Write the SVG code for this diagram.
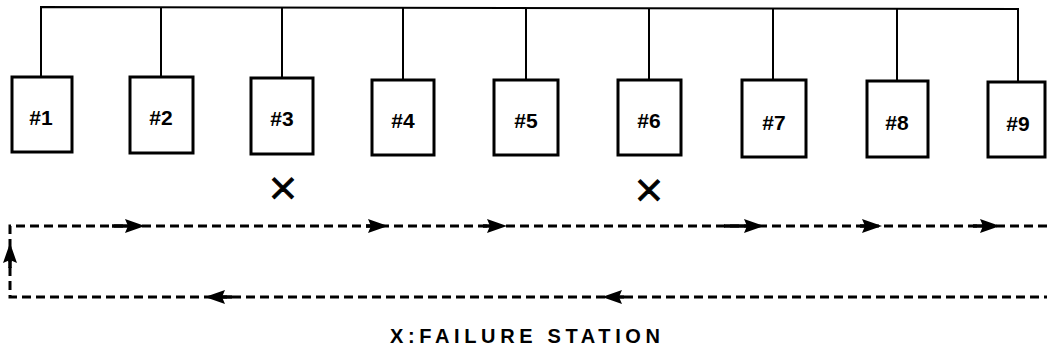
<svg xmlns="http://www.w3.org/2000/svg" xmlns:xlink="http://www.w3.org/1999/xlink" width="1047" height="352" viewBox="0 0 1047 352">
<style>
.box{fill:#fff;stroke:#000;stroke-width:3}
.wire{fill:none;stroke:#000;stroke-width:2}
.dash{fill:none;stroke:#000;stroke-width:3;stroke-dasharray:9 5}
.lead{fill:none;stroke:#000;stroke-width:3.5}
.lbl{font-family:"Liberation Sans",Arial,sans-serif;font-weight:bold;font-size:21px;text-anchor:middle;fill:#000}
.x{font-family:"DejaVu Sans",sans-serif;font-size:38px;text-anchor:middle;fill:#000;stroke:#000;stroke-width:0.8}
.cap{font-family:"Liberation Sans",Arial,sans-serif;font-weight:bold;font-size:20px;fill:#000}
.ah{fill:#000}
</style>
<defs>
<path id="ah" d="M0,0 L-20,-7 L-17,0 L-20,7 Z"/>
</defs>
<rect width="1047" height="352" fill="#fff"/>
<g id="connectors">
<polyline class="wire" points="41,77 41,7 1018,9 1018,82"/>
<line class="wire" x1="161" y1="7" x2="161" y2="77"/>
<line class="wire" x1="282" y1="7" x2="282" y2="78"/>
<line class="wire" x1="403" y1="8" x2="403" y2="80"/>
<line class="wire" x1="526" y1="8" x2="526" y2="80"/>
<line class="wire" x1="649" y1="8" x2="649" y2="80"/>
<line class="wire" x1="773" y1="8" x2="773" y2="80"/>
<line class="wire" x1="897" y1="9" x2="897" y2="81"/>
<polyline class="dash" points="1047,226 10,226 10,297 1047,297"/>
<g class="ah">
<line class="lead" x1="112" y1="226" x2="130" y2="226"/><use xlink:href="#ah" transform="translate(145,226)"/>
<line class="lead" x1="366" y1="226" x2="374" y2="226"/><use xlink:href="#ah" transform="translate(388,226)"/>
<line class="lead" x1="483" y1="226" x2="493" y2="226"/><use xlink:href="#ah" transform="translate(507,226)"/>
<line class="lead" x1="724" y1="226" x2="750" y2="226"/><use xlink:href="#ah" transform="translate(764,226)"/>
<line class="lead" x1="860" y1="226" x2="868" y2="226"/><use xlink:href="#ah" transform="translate(882,226)"/>
<line class="lead" x1="973" y1="226" x2="986" y2="226"/><use xlink:href="#ah" transform="translate(1000,226)"/>
<line class="lead" x1="219" y1="297" x2="232" y2="297"/><use xlink:href="#ah" transform="translate(205,297) rotate(180)"/>
<line class="lead" x1="616" y1="297" x2="624" y2="297"/><use xlink:href="#ah" transform="translate(602,297) rotate(180)"/>
<line class="lead" x1="10" y1="257" x2="10" y2="268"/><use xlink:href="#ah" transform="translate(10,243) rotate(-90)"/>
</g>
</g>
<g id="n1"><rect class="box" x="12" y="77" width="60" height="75"/><text class="lbl" x="41" y="125">#1</text></g>
<g id="n2"><rect class="box" x="130" y="77" width="63" height="76"/><text class="lbl" x="161" y="125">#2</text></g>
<g id="n3"><rect class="box" x="251" y="78" width="62" height="76"/><text class="lbl" x="282" y="126">#3</text></g>
<g id="n4"><rect class="box" x="372" y="80" width="62" height="75"/><text class="lbl" x="403" y="128">#4</text></g>
<g id="n5"><rect class="box" x="494" y="80" width="64" height="75"/><text class="lbl" x="526" y="128">#5</text></g>
<g id="n6"><rect class="box" x="618" y="80" width="63" height="75"/><text class="lbl" x="649" y="128">#6</text></g>
<g id="n7"><rect class="box" x="742" y="80" width="64" height="77"/><text class="lbl" x="774" y="130">#7</text></g>
<g id="n8"><rect class="box" x="867" y="81" width="61" height="76"/><text class="lbl" x="897" y="130">#8</text></g>
<g id="n9"><rect class="box" x="988" y="82" width="57" height="75"/><text class="lbl" x="1018" y="131">#9</text></g>
<text class="x" x="283" y="200">×</text>
<text class="x" x="649" y="202">×</text>
<text class="cap" x="390" y="343" textLength="270" lengthAdjust="spacing">X:FAILURE STATION</text>
</svg>
